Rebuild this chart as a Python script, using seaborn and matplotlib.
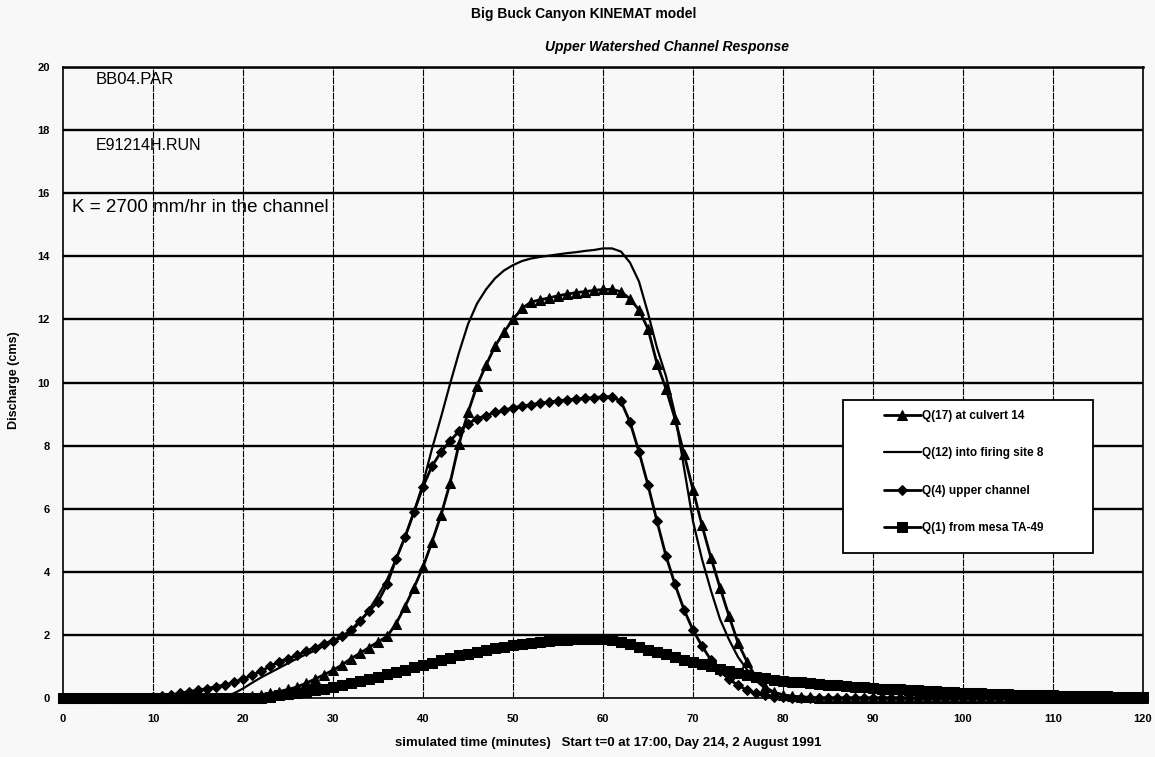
import numpy as np
import pandas as pd
import matplotlib
matplotlib.use("Agg")
import matplotlib.pyplot as plt
from matplotlib.patches import Rectangle
import seaborn as sns

# ---------------- data ----------------
minutes = list(range(0, 121))

q17_culvert14 = ([0.0] * 21 +
    [0.05, 0.1, 0.15, 0.2, 0.27, 0.35, 0.47, 0.6, 0.74, 0.88,          # 21-30
     1.05, 1.25, 1.42, 1.6, 1.78, 1.95, 2.35, 2.9, 3.5, 4.15,           # 31-40
     4.95, 5.8, 6.8, 8.05, 9.05, 9.9, 10.55, 11.15, 11.6, 12.0,         # 41-50
     12.35, 12.55, 12.62, 12.68, 12.75, 12.8, 12.85, 12.88, 12.92, 12.95,  # 51-60
     12.95, 12.88, 12.65, 12.3, 11.7, 10.6, 9.8, 8.85, 7.74, 6.6,       # 61-70
     5.47, 4.44, 3.5, 2.6, 1.75, 1.15, 0.65, 0.35, 0.18, 0.1,           # 71-80
     0.06, 0.04, 0.02] + [0.0] * 37)

q12_firing_site8 = ([0.0] * 18 +
    [0.05, 0.15, 0.3,                                                   # 18-20
     0.48, 0.65, 0.8, 0.95, 1.1, 1.25, 1.38, 1.5, 1.65, 1.78,           # 21-30
     1.92, 2.1, 2.4, 2.8, 3.25, 3.75, 4.4, 5.1, 5.9, 6.8,               # 31-40
     7.9, 8.9, 9.95, 10.95, 11.85, 12.5, 12.95, 13.3, 13.55, 13.72,     # 41-50
     13.85, 13.93, 13.98, 14.02, 14.06, 14.1, 14.13, 14.17, 14.2, 14.25,# 51-60
     14.25, 14.15, 13.8, 13.2, 12.2, 11.1, 10.2, 9.0, 7.3, 5.6,         # 61-70
     4.4, 3.4, 2.5, 1.85, 1.3, 0.9, 0.55, 0.3, 0.18, 0.1,               # 71-80
     0.05, 0.02] + [0.0] * 38)

q4_upper_channel = ([0.0] * 10 +
    [0.03,                                                              # 10
     0.06, 0.1, 0.15, 0.2, 0.25, 0.3, 0.36, 0.42, 0.5, 0.6,             # 11-20
     0.72, 0.85, 1.0, 1.15, 1.25, 1.35, 1.48, 1.6, 1.72, 1.82,          # 21-30
     1.95, 2.15, 2.45, 2.75, 3.05, 3.6, 4.4, 5.1, 5.9, 6.7,             # 31-40
     7.35, 7.8, 8.15, 8.45, 8.7, 8.85, 8.95, 9.05, 9.12, 9.2,           # 41-50
     9.25, 9.3, 9.34, 9.38, 9.42, 9.45, 9.48, 9.5, 9.52, 9.55,          # 51-60
     9.55, 9.4, 8.75, 7.8, 6.75, 5.6, 4.5, 3.6, 2.8, 2.15,              # 61-70
     1.65, 1.2, 0.85, 0.6, 0.4, 0.25, 0.15, 0.08, 0.04, 0.02]           # 71-80
    + [0.0] * 40)

q1_mesa_ta49 = ([0.0] * 23 +
    [0.04, 0.08, 0.12, 0.16, 0.2, 0.25, 0.3, 0.35,                      # 23-30
     0.41, 0.47, 0.53, 0.6, 0.67, 0.75, 0.82, 0.9, 0.97, 1.05,          # 31-40
     1.12, 1.2, 1.28, 1.35, 1.4, 1.46, 1.52, 1.58, 1.63, 1.68,          # 41-50
     1.72, 1.75, 1.78, 1.8, 1.83, 1.85, 1.86, 1.87, 1.87, 1.87,         # 51-60
     1.85, 1.78, 1.7, 1.62, 1.53, 1.45, 1.38, 1.3, 1.22, 1.15,          # 61-70
     1.07, 1.0, 0.92, 0.85, 0.78, 0.72, 0.67, 0.62, 0.58, 0.55,         # 71-80
     0.52, 0.5, 0.47, 0.45, 0.42, 0.4, 0.38, 0.36, 0.34, 0.32,          # 81-90
     0.3, 0.29, 0.27, 0.26, 0.24, 0.23, 0.21, 0.2, 0.18, 0.17,          # 91-100
     0.16, 0.15, 0.14, 0.13, 0.12, 0.11, 0.1, 0.09, 0.09, 0.08,         # 101-110
     0.07, 0.07, 0.06, 0.06, 0.05, 0.05, 0.04, 0.04, 0.03, 0.03])       # 111-120

series_labels = ["Q(17) at culvert 14", "Q(12) into firing site 8",
                 "Q(4) upper channel", "Q(1) from mesa TA-49"]
x_ticks = list(range(0, 121, 10))
y_ticks = list(range(0, 21, 2))

df = pd.DataFrame({"t": minutes,
                   series_labels[0]: q17_culvert14,
                   series_labels[1]: q12_firing_site8,
                   series_labels[2]: q4_upper_channel,
                   series_labels[3]: q1_mesa_ta49})

# ---------------- styling ----------------
sns.set_style("white")
plt.rcParams['font.family'] = ['Liberation Sans Narrow', 'Liberation Sans', 'DejaVu Sans']
plt.rcParams['text.color'] = 'black'
plt.rcParams['axes.labelcolor'] = 'black'
plt.rcParams['xtick.color'] = 'black'
plt.rcParams['ytick.color'] = 'black'
BG = "#f8f8f8"

fig = plt.figure(figsize=(11.55, 7.57), dpi=100, facecolor=BG)
W, H = 1155, 757
ax = fig.add_axes([63 / W, 1 - 698 / H, (1143 - 63) / W, (698 - 67) / H])
ax.set_facecolor(BG)

styles = [
    dict(marker="^", markersize=6.5, linewidth=2.0),
    dict(marker=None, linewidth=1.6),
    dict(marker="D", markersize=5.5, linewidth=2.0),
    dict(marker="s", markersize=6.8, linewidth=2.0),
]
order_draw = [3, 2, 0, 1]
for i in order_draw:
    lab = series_labels[i]
    st = styles[i]
    sns.lineplot(data=df, x="t", y=lab, ax=ax, color="black", label=lab,
                 marker=st.get("marker"), markersize=st.get("markersize", 0),
                 markeredgecolor="black", markerfacecolor="black",
                 linewidth=st["linewidth"], clip_on=False, zorder=5)

ax.set_xlim(0, 120)
ax.set_ylim(0, 20)
ax.set_xticks(x_ticks)
ax.set_yticks(y_ticks)
ax.set_yticks(np.arange(0, 20.01, 0.4), minor=True)
ax.set_xlabel("")
ax.set_ylabel("")

# grid
for yv in y_ticks[1:]:
    ax.axhline(yv, color="black", linewidth=1.7, zorder=1)
for xv in x_ticks[1:-1]:
    ax.axvline(xv, color="black", linewidth=0.8, linestyle=(0, (6, 1)), zorder=1)
for s in ax.spines.values():
    s.set_color("black")
    s.set_linewidth(1.2)
ax.spines["top"].set_linewidth(1.8)

ax.tick_params(axis="y", which="major", direction="inout", length=7, width=1,
               labelsize=8, pad=6, colors="black")
ax.tick_params(axis="y", which="minor", direction="inout", length=4, width=1)
ax.tick_params(axis="x", which="major", direction="inout", length=5, width=1,
               labelsize=8, pad=9, colors="black")
for lbl in ax.get_xticklabels() + ax.get_yticklabels():
    lbl.set_fontweight("bold")

# in-plot notes
note_kw = dict(color="black", family=['Liberation Sans', 'DejaVu Sans'],
               va="center", ha="left", zorder=6)
ax.text(3.6, 19.6, "BB04.PAR", fontsize=12, **note_kw)
ax.text(3.6, 17.5, "E91214H.RUN", fontsize=11.5, **note_kw)
ax.text(1.0, 15.55, "K = 2700 mm/hr in the channel", fontsize=13.5, **note_kw)

# legend: frame drawn as a rectangle, entries placed inside it
ax.add_patch(Rectangle(((843 - 63) / 1080, (698 - 553) / 631), 250 / 1080, 153 / 631,
                       transform=ax.transAxes, facecolor="white", edgecolor="black",
                       linewidth=1.3, zorder=9))
handles, labels = ax.get_legend_handles_labels()
hmap = dict(zip(labels, handles))
leg = ax.legend([hmap[l] for l in series_labels], series_labels,
                loc="center left",
                bbox_to_anchor=((878 - 63) / 1080, (698 - 472) / 631),
                frameon=False, borderpad=0, labelspacing=2.15, handlelength=3.1,
                handletextpad=0.1, prop=dict(weight="bold", size=8.5))
leg.set_zorder(10)

# titles and axis labels
fig.text(584 / W, 1 - 14 / H, "Big Buck Canyon KINEMAT model", ha="center", va="center",
         fontsize=10, fontweight="bold")
fig.text(667 / W, 1 - 47 / H, "Upper Watershed Channel Response", ha="center", va="center",
         fontsize=10, fontweight="bold", fontstyle="italic")
fig.text(608 / W, 1 - 743 / H,
         "simulated time (minutes)   Start t=0 at 17:00, Day 214, 2 August 1991",
         ha="center", va="center", fontsize=9.5, fontweight="bold")
fig.text(14 / W, 1 - 380 / H, "Discharge (cms)", ha="center", va="center",
         rotation=90, fontsize=9, fontweight="bold")

fig.savefig("out.png", dpi=100, facecolor=BG)
